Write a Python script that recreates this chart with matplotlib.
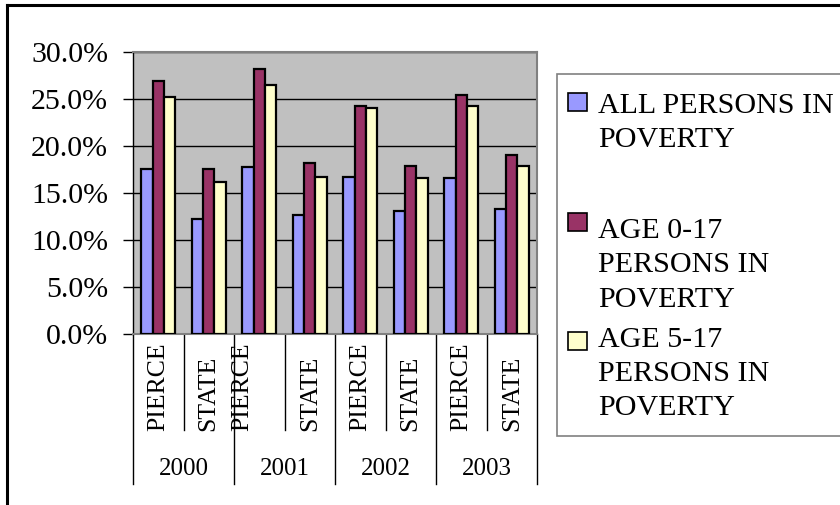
import numpy as np
import matplotlib
matplotlib.use("Agg")
import matplotlib.pyplot as plt
from matplotlib.patches import Rectangle
from matplotlib.lines import Line2D
from matplotlib.ticker import FuncFormatter

# poverty rates (percent) by year and area
years = ["2000", "2001", "2002", "2003"]
areas = ["PIERCE", "STATE"]
all_persons = [17.5, 12.2, 17.7, 12.6, 16.7, 13.0, 16.5, 13.2]
age_0_17 = [26.9, 17.5, 28.1, 18.1, 24.2, 17.8, 25.4, 19.0]
age_5_17 = [25.2, 16.1, 26.4, 16.7, 24.0, 16.5, 24.2, 17.8]

series_names = ["ALL PERSONS IN\nPOVERTY",
                "AGE 0-17\nPERSONS IN\nPOVERTY",
                "AGE 5-17\nPERSONS IN\nPOVERTY"]
colors = ["#9999FF", "#993366", "#FFFFCC"]

plt.rcParams["font.family"] = ["Liberation Serif", "DejaVu Serif"]

W, H = 840, 506
fig = plt.figure(figsize=(W / 100, H / 100), dpi=100)

def px(x, y):
    # pixel position (from top-left) -> figure fraction
    return x / W, 1 - y / H

left, top, right, bottom = 133, 52.5, 537, 334.5
ax = fig.add_axes([left / W, 1 - bottom / H, (right - left) / W, (bottom - top) / H])
ax.set_facecolor("#C0C0C0")

n = len(all_persons)
x = np.arange(n)
bw = 0.227
for k, vals in enumerate([all_persons, age_0_17, age_5_17]):
    ax.bar(x + (k - 1) * bw, vals, bw, color=colors[k], edgecolor="black",
           linewidth=1.6, zorder=3)

ax.set_xlim(-0.5, n - 0.5)
ax.set_ylim(0, 30)
ax.set_yticks(np.arange(0, 30.1, 5))
ax.yaxis.set_major_formatter(FuncFormatter(lambda v, p: "%.1f%%" % v))
ax.tick_params(axis="y", labelsize=21.5, length=7, width=1, pad=11, direction="out")
ax.set_xticks([])
ax.grid(axis="y", color="black", linewidth=1, zorder=1)

for s in ["top", "right", "bottom"]:
    ax.spines[s].set_color("#808080")
    ax.spines[s].set_linewidth(1.5)
ax.spines["left"].set_color("black")
ax.spines["left"].set_linewidth(1)

# two-level category axis
xt = ax.get_xaxis_transform()
inner_end = -(431 - bottom) / (bottom - top)
outer_end = -(485 - bottom) / (bottom - top)
for i in range(n + 1):
    y_end = outer_end if i % 2 == 0 else inner_end
    ax.add_line(Line2D([i - 0.5, i - 0.5], [0, y_end], color="black",
                       linewidth=1, transform=xt, clip_on=False))

label_shift = {2: -0.33}  # squeezed PIERCE label under 2001
for i in range(n):
    ax.text(i + label_shift.get(i, 0), inner_end, areas[i % 2], rotation=90,
            ha="center", va="bottom", fontsize=18.5, transform=xt, clip_on=False)
year_y = -(469 - bottom) / (bottom - top)
for j, yr in enumerate(years):
    ax.text(2 * j + 0.5, year_y, yr, ha="center", va="center", fontsize=18,
            transform=xt, clip_on=False)

# legend box
lx0, ly0 = px(557, 437)
fig.add_artist(Rectangle((lx0, ly0), 1.0, (437 - 75) / H, transform=fig.transFigure,
                         facecolor="white", edgecolor="#808080", linewidth=1.2))
sq_tops = [94, 214, 333]
baselines = [[113, 147], [238, 272, 307], [347, 381, 415]]
for k in range(3):
    sx, sy = px(568, sq_tops[k] + 18)
    fig.add_artist(Rectangle((sx, sy), 19 / W, 18 / H, transform=fig.transFigure,
                             facecolor=colors[k], edgecolor="black", linewidth=1.2))
    for line, b in zip(series_names[k].split("\n"), baselines[k]):
        tx, ty = px(598, b)
        fig.text(tx, ty, line, fontsize=21.6, ha="left", va="baseline")

# chart border
fig.add_artist(Line2D([7 / W, 7 / W], [0, 1 - 6 / H], color="black", linewidth=2.2,
                      transform=fig.transFigure))
fig.add_artist(Line2D([7 / W, 1], [1 - 6 / H, 1 - 6 / H], color="black", linewidth=2.2,
                      transform=fig.transFigure))

fig.savefig("out.png", dpi=100)
